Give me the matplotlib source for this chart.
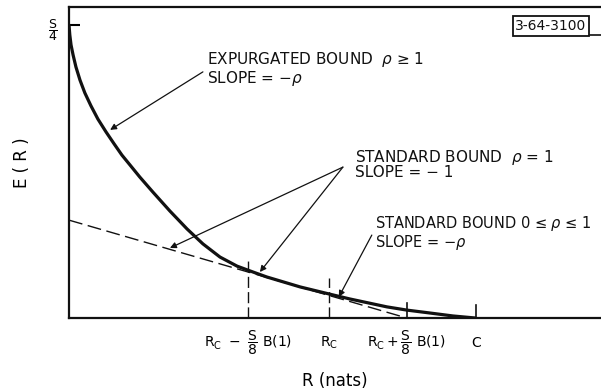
import matplotlib
matplotlib.use("Agg")
import matplotlib.pyplot as plt
from matplotlib.lines import Line2D

plt.rcParams["font.family"] = "DejaVu Sans"
plt.rcParams["mathtext.fontset"] = "dejavusans"
INK = "#111111"

# exponent E(R) vs rate R, units: C = 1, S/4 = 1
rate_R = [0.000, 0.002, 0.005, 0.010, 0.017, 0.027, 0.039, 0.054, 0.071, 0.091,
          0.111, 0.130, 0.150, 0.174, 0.206, 0.248, 0.290, 0.329, 0.371, 0.413,
          0.452, 0.486, 0.568, 0.639, 0.690, 0.781, 0.830, 0.887, 0.943, 0.998]
exponent_E = [1.000, 0.966, 0.932, 0.898, 0.857, 0.812, 0.768, 0.724, 0.679, 0.635,
              0.594, 0.556, 0.522, 0.481, 0.430, 0.365, 0.304, 0.253, 0.208, 0.177,
              0.157, 0.140, 0.106, 0.082, 0.065, 0.038, 0.027, 0.017, 0.007, 0.000]

# straight-line standard bound (rho = 1), slope -1
line_R = [0.0, 0.83]
line_E = [0.334, 0.0]

# marked rates on the R axis
R_lo, R_c, R_hi, C = 0.44, 0.639, 0.83, 1.0
tick_pos = [R_lo, R_c, R_hi, C]
tick_labels = [r"$\mathrm{R_C}\ -\ \dfrac{\mathrm{S}}{8}\ \mathrm{B(1)}$",
               r"$\mathrm{R_C}$",
               r"$\mathrm{R_C}+\dfrac{\mathrm{S}}{8}\ \mathrm{B(1)}$",
               r"$\mathrm{C}$"]
# heights of the drop lines / short marks at those rates
mark_top = [0.205, 0.137, 0.05, 0.044]
mark_dashed = [True, True, False, False]
S4 = 1.0

fig = plt.figure(figsize=(6.01, 3.90), dpi=100, facecolor="white")
ax = fig.add_axes([69 / 601, 72 / 390, 532 / 601, 311 / 390])
ax.set_xlim(0, 532 / 407)
ax.set_ylim(0, 311 / 293)

ax.plot(rate_R, exponent_E, color=INK, lw=2.3, solid_capstyle="round",
        solid_joinstyle="round", zorder=4)
ax.plot(line_R, line_E, color=INK, lw=1.0, dashes=(10, 4), zorder=3)
for x, top, dashed in zip(tick_pos, mark_top, mark_dashed):
    if dashed:
        ax.plot([x, x], [0, top], color=INK, lw=1.0, dashes=(8, 3))
    else:
        ax.plot([x, x], [0, top], color=INK, lw=1.2)

ax.set_xticks(tick_pos, tick_labels, fontsize=10)
ax.tick_params(axis="x", length=0, pad=18)
for lab in ax.get_xticklabels():
    lab.set_va("center")
ax.set_yticks([S4], [r"$\dfrac{\mathrm{S}}{4}$"], fontsize=9)
ax.tick_params(axis="y", direction="in", length=8, width=1.5, pad=8)

ax.set_xlabel("R (nats)", fontsize=12, labelpad=11)
ax.set_ylabel("E ( R )", fontsize=12, labelpad=12)
ax.spines["right"].set_visible(False)
for sp in ("left", "bottom", "top"):
    ax.spines[sp].set_linewidth(1.6)
    ax.spines[sp].set_color(INK)

arrow = dict(arrowstyle="-|>", lw=0.9, color=INK, mutation_scale=9,
             shrinkA=0, shrinkB=0)
ax.annotate("", xy=(0.101, 0.642), xytext=(0.329, 0.840), arrowprops=arrow)
ax.annotate("", xy=(0.248, 0.239), xytext=(0.673, 0.515), arrowprops=arrow)
ax.annotate("", xy=(0.469, 0.157), xytext=(0.673, 0.515), arrowprops=arrow)
ax.annotate("", xy=(0.663, 0.072), xytext=(0.744, 0.283), arrowprops=arrow)

txt = dict(fontsize=11, color=INK, va="center", ha="left")
ax.text(0.339, 0.881, "EXPURGATED BOUND  $\\rho$ \u2265 1", **txt)
ax.text(0.339, 0.819, r"SLOPE = $-\rho$", **txt)
ax.text(0.703, 0.549, "STANDARD BOUND  $\\rho$ = 1", **txt)
ax.text(0.703, 0.495, "SLOPE = \u2212 1", **txt)
ax.text(0.752, 0.324, "STANDARD BOUND 0 \u2264 $\\rho$ \u2264 1",
        **dict(txt, fontsize=10.5))
ax.text(0.752, 0.259, r"SLOPE = $-\rho$", **dict(txt, fontsize=10.5))

fig.text(551 / 601, 1 - 26 / 390, "3-64-3100", fontsize=10, ha="center",
         va="center", color=INK,
         bbox=dict(boxstyle="square,pad=0.2", fc="white", ec=INK, lw=1.3))
fig.add_artist(Line2D([590 / 601, 1.0], [1 - 35 / 390] * 2, color=INK, lw=1.2))

fig.savefig("out.png", dpi=100, facecolor="white")
